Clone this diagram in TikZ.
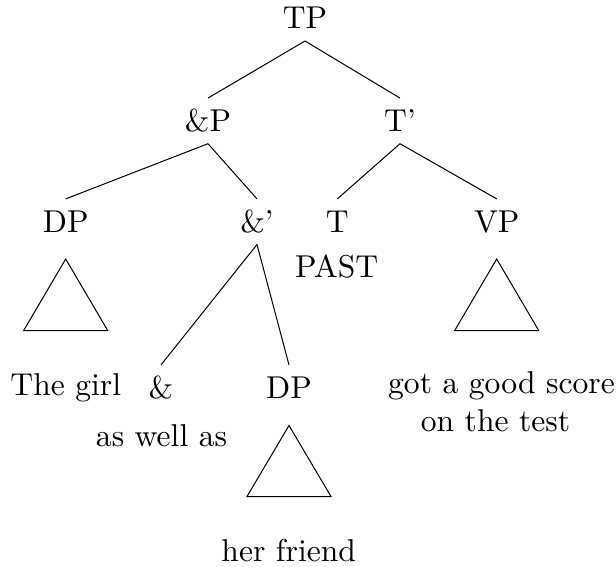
\documentclass[tikz,border=0pt]{standalone}
\usepackage{fontspec}
\setmainfont{lmroman10-regular.otf}
\usetikzlibrary{calc}
\begin{document}
\begin{tikzpicture}[x=0.5pt,y=-0.5pt,
  every node/.style={font=\fontsize{15.8pt}{19.3pt}\selectfont},
  cat/.style={anchor=base, inner sep=0pt, outer sep=6pt, text height=10.8pt, text depth=0pt},
  leaf/.style={anchor=base, inner sep=0pt},
  branch/.style={line width=0.5pt},
  roof/.style={line width=0.5pt, line join=miter},
]
\useasboundingbox (0,0) rectangle (616,567);

% category labels
\node[cat] (TP)   at (305,29)      {TP};
\node[cat] (aP)   at (208,131.7)   {\&P};
\node[cat] (Tbar) at (400,131.7)   {T'};
\node[cat] (DPa)  at (65.7,232.5)  {DP};
\node[cat] (abar) at (257,232.5)   {\&'};
\node[cat] (T)    at (337.3,232.5) {T};
\node[cat] (VP)   at (496.7,232.5) {VP};
\node[cat] (amp)  at (161,398.5)   {\&};
\node[cat] (DPb)  at (289,398.5)   {DP};

% terminal strings
\node[leaf] (past)   at (336.7,277.3) {PAST};
\node[leaf] (girl)   at (65.8,395)    {The girl};
\node[leaf] (awa)    at (161.5,446)   {as well as};
\node[leaf] (score)  at (501.5,393)   {got a good score};
\node[leaf] (test)   at (495.5,431.7) {on the test};
\node[leaf] (friend) at (288.7,561.7) {her friend};

% branches
\draw[branch] (TP.south) -- (aP.north);
\draw[branch] (TP.south) -- (Tbar.north);
\draw[branch] (aP.south) -- (DPa.north);
\draw[branch] (aP.south) -- (abar.north);
\draw[branch] (Tbar.south) -- (T.north);
\draw[branch] (Tbar.south) -- (VP.north);
\draw[branch] (abar.south) -- (amp.north);
\draw[branch] (abar.south) -- (DPb.north);

% triangles for unanalysed phrases
\draw[roof] ($(DPa.base)+(0,26.5)$) -- ++(-42,71.5) -- ++(84,0) -- cycle;
\draw[roof] ($(VP.base)+(0,26.5)$) -- ++(-42,71.5) -- ++(84,0) -- cycle;
\draw[roof] ($(DPb.base)+(0,27)$) -- ++(-42,71) -- ++(84,0) -- cycle;
\end{tikzpicture}
\end{document}
